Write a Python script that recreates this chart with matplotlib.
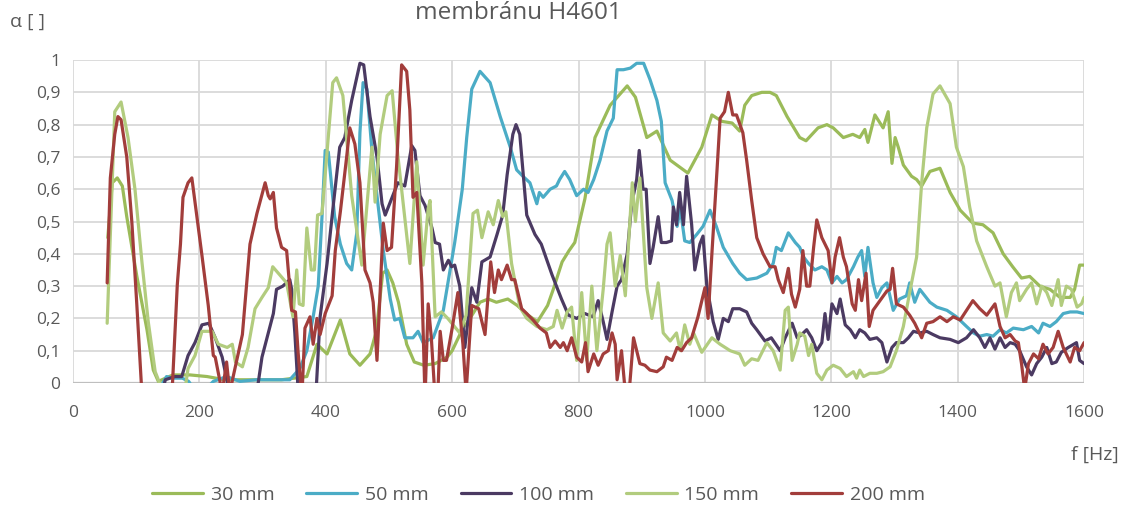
import matplotlib
matplotlib.use('Agg')
from matplotlib import pyplot as plt

plt.rcParams['font.family'] = ['Open Sans', 'DejaVu Sans']

# (f [Hz], alpha); values < 0 are clipped by the axes
s30 = [(55, 0.45), (62, 0.62), (70, 0.635), (78, 0.61), (85, 0.515), (101, 0.33), (117, 0.165),
       (127, 0.04), (135, 0.005), (158, 0.025), (185, 0.025), (212, 0.02), (240, 0.01), (280, 0.01),
       (330, 0.01), (370, 0.02), (386, 0.12), (402, 0.09), (423, 0.195), (438, 0.09), (454, 0.055),
       (470, 0.09), (480, 0.16), (490, 0.34), (497, 0.35), (506, 0.31), (515, 0.25), (528, 0.12),
       (540, 0.065), (555, 0.055), (573, 0.06), (592, 0.08), (600, 0.1), (617, 0.17), (625, 0.19),
       (644, 0.25), (657, 0.26), (670, 0.25), (688, 0.26), (703, 0.24), (720, 0.21), (735, 0.19),
       (751, 0.24), (760, 0.29), (774, 0.375), (785, 0.41), (794, 0.435), (810, 0.57), (826, 0.76),
       (850, 0.86), (877, 0.92), (890, 0.885), (908, 0.76), (924, 0.78), (945, 0.69), (973, 0.65),
       (995, 0.73), (1011, 0.83), (1027, 0.81), (1043, 0.805), (1055, 0.78), (1063, 0.86),
       (1074, 0.89), (1090, 0.9), (1103, 0.9), (1113, 0.89), (1130, 0.825), (1150, 0.76),
       (1160, 0.75), (1179, 0.79), (1193, 0.8), (1203, 0.79), (1219, 0.76), (1234, 0.77),
       (1245, 0.76), (1253, 0.785), (1258, 0.745), (1269, 0.83), (1282, 0.79), (1290, 0.84),
       (1296, 0.68), (1301, 0.76), (1306, 0.73), (1314, 0.675), (1327, 0.64), (1335, 0.63),
       (1343, 0.61), (1356, 0.655), (1372, 0.665), (1388, 0.59), (1404, 0.535), (1424, 0.495),
       (1440, 0.49), (1456, 0.465), (1472, 0.4), (1487, 0.36), (1501, 0.325), (1514, 0.33),
       (1530, 0.3), (1546, 0.29), (1562, 0.265), (1578, 0.265), (1585, 0.29), (1593, 0.365),
       (1600, 0.365)]

s50 = [(136, -0.02), (148, 0.02), (157, 0.015), (173, 0.015), (183, 0.005), (195, -0.03),
       (210, -0.02), (222, 0.005), (243, 0.02), (264, 0.005), (290, 0.01), (316, 0.01), (343, 0.01),
       (359, 0.045), (370, 0.1), (380, 0.205), (388, 0.3), (394, 0.515), (399, 0.72), (404, 0.715),
       (414, 0.515), (423, 0.43), (433, 0.37), (441, 0.35), (449, 0.465), (454, 0.775), (459, 0.93),
       (465, 0.91), (473, 0.72), (481, 0.58), (491, 0.41), (502, 0.26), (509, 0.195), (517, 0.2),
       (525, 0.14), (538, 0.14), (546, 0.16), (554, 0.125), (570, 0.14), (586, 0.225), (604, 0.435),
       (616, 0.6), (623, 0.76), (631, 0.91), (644, 0.965), (660, 0.93), (676, 0.825), (692, 0.73),
       (702, 0.66), (712, 0.64), (723, 0.62), (734, 0.555), (738, 0.59), (744, 0.575), (755, 0.6),
       (765, 0.61), (770, 0.63), (778, 0.655), (786, 0.63), (797, 0.58), (808, 0.6), (815, 0.59),
       (824, 0.63), (834, 0.69), (845, 0.78), (855, 0.82), (861, 0.97), (871, 0.97), (882, 0.975),
       (892, 0.99), (903, 0.99), (913, 0.94), (924, 0.875), (931, 0.81), (937, 0.62), (948, 0.565),
       (956, 0.485), (961, 0.54), (968, 0.44), (976, 0.435), (987, 0.46), (997, 0.485),
       (1008, 0.535), (1018, 0.485), (1029, 0.42), (1044, 0.37), (1055, 0.34), (1066, 0.32),
       (1082, 0.325), (1098, 0.34), (1108, 0.37), (1113, 0.42), (1121, 0.41), (1132, 0.465),
       (1143, 0.435), (1150, 0.42), (1156, 0.39), (1164, 0.37), (1174, 0.35), (1185, 0.36),
       (1193, 0.35), (1201, 0.31), (1209, 0.33), (1217, 0.31), (1224, 0.32), (1235, 0.36),
       (1242, 0.39), (1248, 0.41), (1253, 0.33), (1258, 0.42), (1266, 0.31), (1272, 0.265),
       (1280, 0.295), (1288, 0.31), (1298, 0.225), (1308, 0.26), (1319, 0.27), (1324, 0.31),
       (1332, 0.25), (1340, 0.29), (1348, 0.27), (1356, 0.25), (1367, 0.235), (1383, 0.225),
       (1398, 0.205), (1414, 0.175), (1425, 0.155), (1435, 0.145), (1446, 0.15), (1456, 0.145),
       (1467, 0.165), (1477, 0.155), (1488, 0.17), (1504, 0.165), (1517, 0.175), (1528, 0.155),
       (1535, 0.185), (1546, 0.175), (1556, 0.19), (1567, 0.215), (1578, 0.22), (1589, 0.22),
       (1600, 0.215)]

s100 = [(133, -0.1), (146, 0.01), (161, 0.02), (172, 0.02), (182, 0.085), (193, 0.125), (204, 0.18),
        (215, 0.185), (225, 0.14), (236, 0.08), (244, 0.005), (252, -0.1), (285, -0.1), (293, 0.0),
        (299, 0.08), (307, 0.14), (317, 0.215), (322, 0.29), (332, 0.3), (343, 0.32), (346, 0.29),
        (351, 0.155), (357, -0.05), (384, -0.05), (391, 0.205), (402, 0.37), (411, 0.535),
        (422, 0.73), (430, 0.76), (441, 0.875), (454, 0.99), (460, 0.985), (470, 0.825), (481, 0.7),
        (489, 0.555), (494, 0.52), (504, 0.57), (514, 0.62), (525, 0.61), (536, 0.735), (541, 0.72),
        (549, 0.58), (557, 0.55), (568, 0.48), (573, 0.435), (580, 0.43), (586, 0.35), (594, 0.38),
        (599, 0.36), (604, 0.365), (612, 0.3), (620, 0.11), (631, 0.295), (639, 0.25), (647, 0.375),
        (660, 0.39), (671, 0.46), (680, 0.52), (687, 0.645), (696, 0.77), (701, 0.8), (707, 0.77),
        (718, 0.52), (731, 0.46), (741, 0.43), (758, 0.335), (773, 0.26), (784, 0.21), (797, 0.2),
        (810, 0.215), (823, 0.205), (831, 0.255), (839, 0.19), (845, 0.135), (853, 0.22),
        (861, 0.3), (868, 0.32), (877, 0.4), (884, 0.555), (892, 0.63), (896, 0.72), (902, 0.6),
        (907, 0.6), (913, 0.37), (918, 0.42), (926, 0.515), (931, 0.435), (939, 0.435),
        (947, 0.44), (950, 0.545), (955, 0.49), (960, 0.59), (966, 0.49), (971, 0.64), (979, 0.49),
        (984, 0.35), (992, 0.43), (997, 0.455), (1003, 0.3), (1013, 0.19), (1021, 0.135),
        (1029, 0.2), (1037, 0.19), (1044, 0.23), (1055, 0.23), (1066, 0.22), (1074, 0.185),
        (1082, 0.165), (1095, 0.13), (1105, 0.14), (1119, 0.1), (1127, 0.14), (1138, 0.185),
        (1146, 0.14), (1153, 0.15), (1161, 0.165), (1169, 0.14), (1177, 0.1), (1185, 0.125),
        (1190, 0.215), (1195, 0.135), (1201, 0.245), (1209, 0.215), (1214, 0.26), (1222, 0.18),
        (1230, 0.165), (1238, 0.14), (1245, 0.165), (1253, 0.155), (1261, 0.135), (1272, 0.14),
        (1280, 0.125), (1288, 0.065), (1296, 0.11), (1303, 0.125), (1314, 0.125), (1322, 0.14),
        (1330, 0.16), (1340, 0.155), (1351, 0.16), (1361, 0.15), (1372, 0.14), (1388, 0.135),
        (1401, 0.125), (1414, 0.14), (1425, 0.165), (1435, 0.14), (1443, 0.11), (1451, 0.14),
        (1459, 0.105), (1467, 0.14), (1475, 0.11), (1483, 0.125), (1491, 0.12), (1498, 0.1),
        (1509, 0.05), (1517, 0.025), (1525, 0.06), (1533, 0.08), (1541, 0.11), (1549, 0.06),
        (1556, 0.065), (1564, 0.095), (1575, 0.11), (1588, 0.125), (1593, 0.07), (1600, 0.06)]

s150 = [(54, 0.185), (66, 0.84), (76, 0.87), (87, 0.76), (98, 0.6), (109, 0.375), (119, 0.19),
        (130, 0.035), (137, 0.0), (150, -0.05), (175, -0.05), (182, 0.045), (193, 0.085),
        (204, 0.16), (220, 0.16), (230, 0.12), (244, 0.11), (252, 0.12), (257, 0.065), (268, 0.05),
        (277, 0.11), (288, 0.23), (299, 0.265), (309, 0.295), (316, 0.36), (338, 0.31),
        (348, 0.205), (354, 0.35), (358, 0.245), (364, 0.24), (370, 0.48), (377, 0.35), (382, 0.35),
        (387, 0.52), (394, 0.525), (411, 0.93), (417, 0.945), (427, 0.89), (441, 0.58),
        (457, 0.365), (473, 0.73), (478, 0.56), (486, 0.77), (497, 0.89), (505, 0.905),
        (514, 0.705), (533, 0.37), (544, 0.685), (554, 0.365), (562, 0.54), (565, 0.565),
        (573, 0.205), (583, 0.22), (593, 0.2), (612, 0.155), (622, 0.21), (633, 0.525),
        (640, 0.535), (647, 0.45), (657, 0.53), (665, 0.49), (673, 0.565), (680, 0.515),
        (685, 0.53), (694, 0.37), (707, 0.235), (718, 0.2), (734, 0.175), (750, 0.165),
        (760, 0.175), (766, 0.225), (774, 0.17), (782, 0.22), (789, 0.235), (797, 0.07),
        (805, 0.28), (813, 0.07), (821, 0.3), (829, 0.1), (839, 0.29), (845, 0.43), (850, 0.465),
        (858, 0.3), (866, 0.395), (874, 0.27), (885, 0.62), (890, 0.5), (897, 0.635), (908, 0.295),
        (916, 0.2), (926, 0.31), (934, 0.155), (945, 0.13), (955, 0.155), (961, 0.1), (968, 0.18),
        (976, 0.12), (982, 0.155), (995, 0.095), (1011, 0.14), (1024, 0.12), (1040, 0.1),
        (1055, 0.09), (1063, 0.055), (1074, 0.075), (1084, 0.07), (1098, 0.125), (1108, 0.1),
        (1119, 0.04), (1127, 0.225), (1132, 0.235), (1138, 0.07), (1146, 0.12), (1150, 0.155),
        (1158, 0.145), (1164, 0.085), (1169, 0.12), (1177, 0.03), (1185, 0.01), (1193, 0.04),
        (1203, 0.055), (1214, 0.045), (1224, 0.02), (1235, 0.035), (1240, 0.015), (1245, 0.04),
        (1251, 0.02), (1261, 0.03), (1272, 0.03), (1282, 0.035), (1293, 0.05), (1303, 0.1),
        (1314, 0.175), (1324, 0.28), (1335, 0.39), (1343, 0.62), (1351, 0.79), (1361, 0.895),
        (1372, 0.92), (1388, 0.865), (1398, 0.73), (1409, 0.67), (1419, 0.545), (1430, 0.44),
        (1446, 0.36), (1459, 0.3), (1467, 0.31), (1477, 0.205), (1485, 0.28), (1493, 0.31),
        (1498, 0.255), (1509, 0.29), (1517, 0.31), (1525, 0.245), (1533, 0.3), (1541, 0.28),
        (1549, 0.24), (1559, 0.32), (1564, 0.24), (1572, 0.3), (1580, 0.29), (1589, 0.235),
        (1596, 0.245), (1600, 0.265)]

s200 = [(54, 0.31), (59, 0.635), (66, 0.77), (71, 0.825), (76, 0.815), (85, 0.7), (93, 0.5),
        (101, 0.24), (108, 0.0), (115, -0.3), (150, -0.3), (165, 0.305), (170, 0.43), (174, 0.575),
        (182, 0.62), (188, 0.635), (193, 0.56), (204, 0.395), (214, 0.24), (222, 0.085),
        (225, 0.08), (236, -0.03), (243, 0.065), (248, -0.03), (254, 0.025), (268, 0.15),
        (280, 0.43), (291, 0.525), (304, 0.62), (309, 0.58), (312, 0.57), (317, 0.59), (322, 0.48),
        (330, 0.42), (338, 0.41), (346, 0.225), (352, 0.22), (356, 0.1), (362, -0.05), (367, 0.17),
        (375, 0.205), (380, 0.12), (386, 0.2), (391, 0.15), (399, 0.215), (410, 0.27), (415, 0.41),
        (423, 0.53), (433, 0.7), (438, 0.79), (446, 0.74), (454, 0.62), (462, 0.35), (470, 0.31),
        (475, 0.25), (481, 0.07), (491, 0.495), (497, 0.41), (504, 0.42), (512, 0.67), (520, 0.985),
        (528, 0.965), (533, 0.845), (538, 0.575), (544, 0.59), (552, 0.31), (557, -0.05),
        (562, 0.245), (567, 0.14), (573, -0.05), (577, -0.05), (581, 0.16), (586, 0.07),
        (591, 0.07), (600, 0.17), (609, 0.28), (617, 0.12), (622, -0.03), (631, 0.24), (642, 0.23),
        (652, 0.15), (661, 0.375), (667, 0.28), (673, 0.35), (678, 0.32), (687, 0.365), (694, 0.32),
        (699, 0.32), (710, 0.23), (718, 0.215), (728, 0.195), (739, 0.17), (749, 0.155),
        (755, 0.11), (763, 0.13), (771, 0.11), (776, 0.125), (782, 0.1), (789, 0.14), (797, 0.08),
        (805, 0.065), (811, 0.125), (815, 0.035), (824, 0.09), (831, 0.055), (839, 0.09),
        (847, 0.1), (853, 0.155), (858, 0.12), (861, 0.01), (868, 0.1), (874, -0.03), (880, -0.03),
        (887, 0.14), (897, 0.06), (905, 0.055), (913, 0.04), (924, 0.035), (934, 0.05), (939, 0.08),
        (948, 0.07), (956, 0.11), (963, 0.1), (971, 0.125), (979, 0.14), (989, 0.205),
        (1000, 0.295), (1005, 0.2), (1011, 0.4), (1019, 0.655), (1024, 0.82), (1031, 0.84),
        (1037, 0.9), (1044, 0.83), (1050, 0.83), (1060, 0.775), (1066, 0.69), (1074, 0.565),
        (1082, 0.45), (1092, 0.4), (1103, 0.36), (1111, 0.36), (1116, 0.32), (1124, 0.28),
        (1132, 0.355), (1137, 0.275), (1143, 0.235), (1150, 0.29), (1155, 0.41), (1161, 0.3),
        (1166, 0.3), (1172, 0.42), (1177, 0.505), (1185, 0.45), (1195, 0.41), (1201, 0.31),
        (1206, 0.39), (1213, 0.45), (1219, 0.39), (1224, 0.36), (1233, 0.245), (1238, 0.225),
        (1243, 0.32), (1248, 0.255), (1255, 0.34), (1260, 0.175), (1266, 0.225), (1277, 0.255),
        (1288, 0.285), (1293, 0.29), (1297, 0.355), (1303, 0.245), (1314, 0.235), (1324, 0.21),
        (1332, 0.185), (1343, 0.14), (1351, 0.185), (1361, 0.19), (1372, 0.205), (1383, 0.19),
        (1393, 0.205), (1404, 0.195), (1414, 0.225), (1424, 0.255), (1435, 0.23), (1446, 0.21),
        (1459, 0.245), (1467, 0.175), (1475, 0.14), (1483, 0.15), (1491, 0.13), (1496, 0.125),
        (1501, 0.06), (1506, -0.02), (1512, 0.06), (1520, 0.09), (1528, 0.075), (1535, 0.12),
        (1543, 0.09), (1551, 0.11), (1559, 0.16), (1567, 0.11), (1578, 0.065), (1585, 0.11),
        (1593, 0.1), (1600, 0.125)]

series = [s30, s50, s100, s150, s200]
labels = ['30 mm', '50 mm', '100 mm', '150 mm', '200 mm']
colors = ['#9BBB59', '#4BACC6', '#4B3A62', '#B2CC7E', '#A23D3B']

y_ticks = [i / 10 for i in range(11)]
y_ticklabels = ['0', '0,1', '0,2', '0,3', '0,4', '0,5', '0,6', '0,7', '0,8', '0,9', '1']
x_ticks = list(range(0, 1601, 200))

txt = '#595959'

fig = plt.figure(figsize=(11.29, 5.11), dpi=100)
ax = fig.add_axes([0.0647, 0.2505, 0.8955, 0.632])

for pts, col, lab in zip(series, colors, labels):
    f, a = zip(*pts)
    ax.plot(f, a, color=col, lw=2.3, label=lab, solid_joinstyle='round', solid_capstyle='round')

ax.set_xlim(0, 1600)
ax.set_ylim(0, 1)
ax.set_xticks(x_ticks)
ax.set_yticks(y_ticks)
ax.set_yticklabels(y_ticklabels)
ax.set_axisbelow(True)
ax.grid(color='#D9D9D9', lw=1.3)
for s in ax.spines.values():
    s.set_visible(False)
ax.axhline(0, color='#BFBFBF', lw=1.6, zorder=1)
ax.tick_params(length=0, labelsize=12.5, labelcolor=txt)
ax.tick_params(axis='x', pad=16)
ax.tick_params(axis='y', pad=9)

# titulek (horni radek je oriznuty)
fig.text(0.459, 0.962, 'membránu H4601', ha='center', va='baseline', fontsize=17.5, color=txt)
fig.text(0.009, 0.958, 'α [ ]', ha='left', va='center', fontsize=14, color=txt)
fig.text(0.991, 0.11, 'f [Hz]', ha='right', va='center', fontsize=14, color=txt)

fig.legend(loc='center', bbox_to_anchor=(0.477, 0.031), ncol=5, frameon=False, fontsize=14,
           handlelength=2.6, handletextpad=0.4, columnspacing=1.65, labelcolor=txt)

fig.savefig('out.png', dpi=100)
